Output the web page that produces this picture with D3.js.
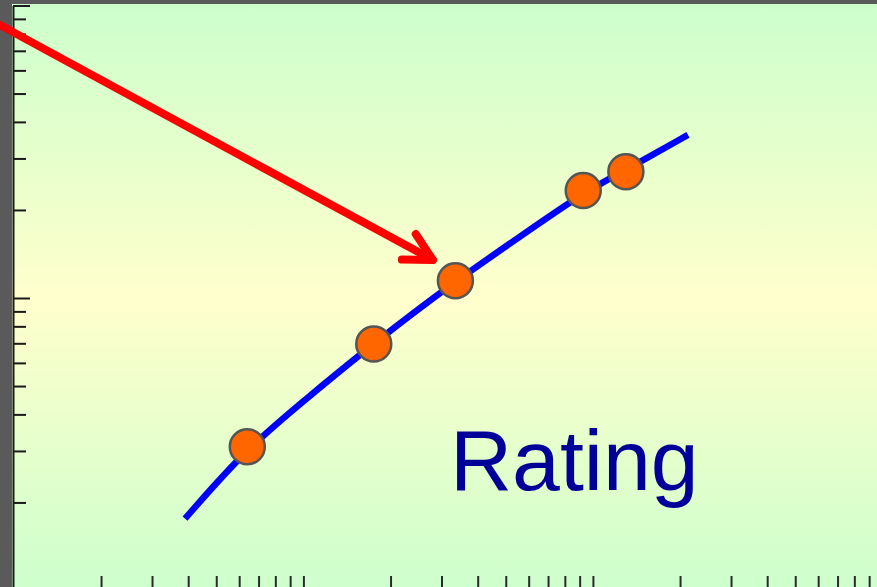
<!DOCTYPE html>
<html>
<head>
<meta charset="utf-8">
<script src="https://cdn.jsdelivr.net/npm/d3@7/dist/d3.min.js"></script>
<style>
  html, body { margin: 0; padding: 0; background: #5a5a5a; overflow: hidden; }
  svg { display: block; }
</style>
</head>
<body>
<div id="chart"></div>
<script>
// rating curve (discharge, stage)
const curveQ = [3.9, 6.38, 10.5, 17.5, 33.4, 56.0, 92.5, 130, 213];
const curveH = [1.76, 3.07, 4.62, 7.01, 11.4, 16.2, 22.9, 27.4, 36.1];

// measured points
const pointQ = [6.4, 17.5, 33.5, 92.6, 130];
const pointH = [3.10, 6.96, 11.46, 23.3, 27.0];

// arrow: from (Q, H) towards the third measurement
const arrowFrom = [0.86, 87.6];
const arrowTo = [28.0, 13.5];

const xTickValues = [2, 3, 4, 5, 6, 7, 8, 9, 10, 20, 30, 40, 50, 60, 70, 80, 90, 100,
  200, 300, 400, 500, 600, 700, 800, 900, 1000];
const yTickValues = [0.2, 0.3, 0.4, 0.5, 0.6, 0.7, 0.8, 0.9, 1,
  2, 3, 4, 5, 6, 7, 8, 9, 10, 20, 30, 40, 50, 60, 70, 80, 90, 100];
const majorTicks = [1, 10, 100, 1000];

const label = "Rating";

const width = 877, height = 587;

const svg = d3.select("#chart").append("svg")
    .attr("width", width)
    .attr("height", height);

const x = d3.scaleLog().domain([1, 1000]).range([13.9, 882.4]);
const y = d3.scaleLog().domain([1, 100]).range([590.5, 5.5]);

const defs = svg.append("defs");
const grad = defs.append("linearGradient")
    .attr("id", "bg")
    .attr("x1", 0).attr("y1", 0).attr("x2", 0).attr("y2", 1);
grad.append("stop").attr("offset", "0%").attr("stop-color", "#ccffcc");
grad.append("stop").attr("offset", "50%").attr("stop-color", "#ffffcc");
grad.append("stop").attr("offset", "100%").attr("stop-color", "#ccffcc");

// frame
svg.append("rect")
    .attr("x", 0).attr("y", 0)
    .attr("width", width).attr("height", height)
    .attr("fill", "#5a5a5a");

svg.append("rect")
    .attr("x", 12).attr("y", 4)
    .attr("width", width - 12).attr("height", 590)
    .attr("fill", "url(#bg)");

// y axis (ticks inside)
const yAxis = d3.axisRight(y)
    .tickValues(yTickValues)
    .tickFormat("")
    .tickSizeInner(13)
    .tickSizeOuter(0);

const gy = svg.append("g")
    .attr("transform", "translate(13,0)")
    .call(yAxis);
gy.select(".domain").attr("stroke", "#1a1a1a").attr("stroke-width", 2);
gy.selectAll(".tick line")
    .attr("stroke", "#1a1a1a")
    .attr("stroke-width", 2)
    .attr("x2", d => majorTicks.includes(d) ? 17 : 13);

// x axis (ticks pointing up from the hidden bottom edge)
const xAxis = d3.axisTop(x)
    .tickValues(xTickValues)
    .tickFormat("")
    .tickSizeInner(14)
    .tickSizeOuter(0);

const gx = svg.append("g")
    .attr("transform", "translate(0,590)")
    .call(xAxis);
gx.select(".domain").attr("stroke", "#1a1a1a").attr("stroke-width", 2);
gx.selectAll(".tick line")
    .attr("stroke", "#2a2a2a")
    .attr("stroke-width", 2);

// rating curve
const line = d3.line()
    .x(d => x(d[0]))
    .y(d => y(d[1]))
    .curve(d3.curveBasis);

svg.append("path")
    .datum(d3.zip(curveQ, curveH))
    .attr("d", line)
    .attr("fill", "none")
    .attr("stroke", "#0000ff")
    .attr("stroke-width", 6.5);

// arrow
const ax0 = x(arrowFrom[0]), ay0 = y(arrowFrom[1]);
const ax1 = x(arrowTo[0]), ay1 = y(arrowTo[1]);
const ang = Math.atan2(ay1 - ay0, ax1 - ax0);
const headLen = 31, headAng = 28 * Math.PI / 180;
const wing = s => [ax1 - headLen * Math.cos(ang + s * headAng), ay1 - headLen * Math.sin(ang + s * headAng)];

const arrow = svg.append("g")
    .attr("fill", "none")
    .attr("stroke", "#ff0000")
    .attr("stroke-width", 8)
    .attr("stroke-linecap", "round")
    .attr("stroke-linejoin", "round");
arrow.append("line")
    .attr("x1", ax0).attr("y1", ay0)
    .attr("x2", ax1).attr("y2", ay1);
arrow.append("path")
    .attr("d", d3.line()([wing(1), [ax1, ay1], wing(-1)]));

// measurements
svg.append("g")
    .selectAll("circle")
    .data(d3.zip(pointQ, pointH))
    .join("circle")
    .attr("cx", d => x(d[0]))
    .attr("cy", d => y(d[1]))
    .attr("r", 17.5)
    .attr("fill", "#ff6600")
    .attr("stroke", "#555555")
    .attr("stroke-width", 2.5);

svg.append("text")
    .attr("x", 450)
    .attr("y", 490)
    .attr("font-family", "'Liberation Sans', Arial, sans-serif")
    .attr("font-size", 86)
    .attr("fill", "#000099")
    .text(label);
</script>
</body>
</html>
